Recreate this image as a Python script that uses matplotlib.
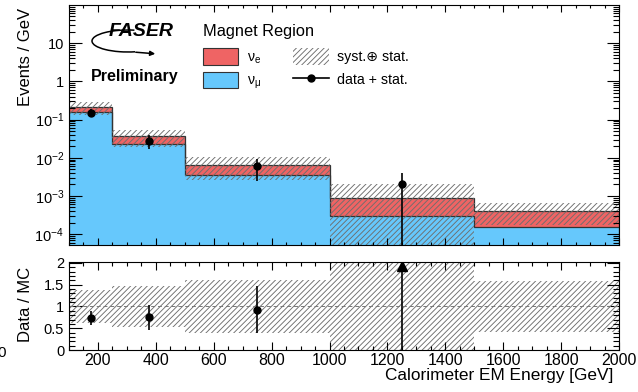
import numpy as np
import matplotlib
matplotlib.use('Agg')
import matplotlib.pyplot as plt
from matplotlib.patches import Patch, Arc, FancyArrowPatch
from matplotlib.lines import Line2D
from matplotlib.ticker import MultipleLocator, LogLocator, NullFormatter

plt.rcParams['font.family'] = ['Liberation Sans', 'DejaVu Sans']
plt.rcParams['mathtext.fontset'] = 'custom'
plt.rcParams['mathtext.rm'] = 'Liberation Sans'
plt.rcParams['mathtext.it'] = 'Liberation Sans'
plt.rcParams['mathtext.bf'] = 'Liberation Sans:bold'
plt.rcParams['hatch.linewidth'] = 0.65

# binned MC (events / GeV)
bin_edges = [100, 250, 500, 1000, 1500, 2000]
nu_mu = [0.157, 0.0226, 0.00357, 0.000298, 0.000158]
nu_e = [0.051, 0.0144, 0.0029, 0.00059, 0.000245]
rel_unc = [0.38, 0.48, 0.60, 1.36, 0.58]   # syst (+) stat, relative

# data points
data_x = [175, 375, 750, 1250]
data = [0.153, 0.028, 0.006, 0.002]
data_err = [0.032, 0.0106, 0.0035, 0.002]

red = '#ef6464'
blue = '#66c8fc'
hatch_col = '#6e6e6e'
edge_col = '#333333'

edges = np.array(bin_edges, dtype=float)
mu = np.array(nu_mu)
tot = mu + np.array(nu_e)
unc = np.array(rel_unc)
widths = np.diff(edges)

fig = plt.figure(figsize=(6.38, 3.92), dpi=100)
W, H = 638.0, 392.0
ax = fig.add_axes([69 / W, 1 - 245 / H, 550 / W, 240 / H])
axr = fig.add_axes([69 / W, 1 - 350 / H, 550 / W, 88 / H])

# ---- top panel
ax.set_yscale('log')
ax.stairs(mu, edges, baseline=1e-9, fill=True, color=blue)
ax.stairs(tot, edges, baseline=mu, fill=True, color=red)
ax.stairs(mu, edges, baseline=None, color=edge_col, lw=0.9)
ax.stairs(tot, edges, baseline=1e-9, color=edge_col, lw=0.9)
lo = np.clip(tot * (1 - unc), 1e-9, None)
hi = tot * (1 + unc)
ax.bar(edges[:-1], hi - lo, width=widths, bottom=lo, align='edge', fill=False,
       hatch='//////', edgecolor=hatch_col, linewidth=0)

d = np.array(data)
de = np.array(data_err)
ax.errorbar(data_x, d, yerr=[np.minimum(de, d * 0.999999), de],
            fmt='o', color='k', ms=5, elinewidth=1.2, capsize=0)

ax.set_xlim(100, 2000)
ax.set_ylim(5.2e-5, 100)
ax.set_yticks([1e-4, 1e-3, 1e-2, 1e-1, 1, 10])
ax.set_yticklabels(['$10^{-4}$', '$10^{-3}$', '$10^{-2}$', '$10^{-1}$', '1', '10'])
ax.yaxis.set_minor_locator(LogLocator(base=10, subs=np.arange(2, 10)))
ax.yaxis.set_minor_formatter(NullFormatter())
ax.xaxis.set_major_locator(MultipleLocator(200))
ax.xaxis.set_minor_locator(MultipleLocator(50))
ax.tick_params(axis='x', labelbottom=False)
ax.tick_params(which='both', direction='in', top=True, right=True, labelsize=10.5)
ax.tick_params(axis='y', which='major', length=9, width=0.8)
ax.tick_params(axis='y', which='minor', length=4.5, width=0.8)
ax.tick_params(axis='x', which='major', length=5, width=0.8)
ax.tick_params(axis='x', which='minor', length=2.5, width=0.8)
ax.set_ylabel('Events / GeV', fontsize=12, loc='top')
ax.yaxis.set_label_coords(-0.066, 0.99)

handles = [Patch(facecolor=red, edgecolor=edge_col, lw=0.8),
           Patch(facecolor=blue, edgecolor=edge_col, lw=0.8),
           Patch(facecolor='white', edgecolor=hatch_col, hatch='//////', lw=0),
           Line2D([], [], color='k', marker='o', ms=5, lw=1.2)]
labels = [r'$\nu_{e}$', r'$\nu_{\mu}$', 'syst.\u2295 stat.', 'data + stat.']
leg = ax.legend(handles, labels, ncol=2, frameon=False, fontsize=10.2,
                title='Magnet Region', title_fontsize=11.8,
                loc='upper left', bbox_to_anchor=(0.243, 0.922),
                borderaxespad=0, borderpad=0, handlelength=2.5, handleheight=1.4,
                handletextpad=0.6, columnspacing=2.3, labelspacing=0.45)
leg._legend_box.align = 'left'
leg._legend_box.sep = 7

# FASER logo + Preliminary
def px(x, y):
    return (x / W, 1 - y / H)

fig.text(*px(141, 32), 'FASER', fontsize=14, fontweight='bold', fontstyle='italic',
         ha='center', va='center')
fig.add_artist(Arc(px(128, 41), 72 / W, 22 / H, theta1=70, theta2=292,
                   transform=fig.transFigure, color='k', lw=1.1))
fig.add_artist(FancyArrowPatch(px(133, 52), px(158, 54),
               transform=fig.transFigure, arrowstyle='-|>', mutation_scale=7,
               color='k', lw=1.1))
fig.text(*px(135, 77), 'Preliminary', fontsize=11.5, fontweight='bold',
         ha='center', va='center')

# ---- ratio panel
r_lo = 1 - unc
r_hi = 1 + unc
axr.bar(edges[:-1], r_hi - r_lo, width=widths, bottom=r_lo, align='edge',
        fill=False, hatch='//////', edgecolor=hatch_col, linewidth=0)
axr.axhline(1, color='#777777', lw=0.7, ls=(0, (4, 3)))

ratio = d / tot[:len(d)]
rerr = de / tot[:len(d)]
inside = ratio <= 2
xr = np.array(data_x)
axr.errorbar(xr[inside], ratio[inside], yerr=rerr[inside], fmt='o', color='k',
             ms=5, elinewidth=1.2, capsize=0)
for x in xr[~inside]:
    axr.vlines(x, 0, 1.95, color='k', lw=1.2)
    axr.plot([x], [1.92], marker='^', color='k', ms=7)

axr.set_xlim(100, 2000)
axr.set_ylim(0, 2.02)
axr.set_yticks([0, 0.5, 1, 1.5, 2])
axr.set_yticklabels(['0', '0.5', '1', '1.5', '2'])
axr.yaxis.set_minor_locator(MultipleLocator(0.1))
axr.xaxis.set_major_locator(MultipleLocator(200))
axr.xaxis.set_minor_locator(MultipleLocator(50))
axr.tick_params(which='both', direction='in', top=True, right=True)
axr.tick_params(axis='y', which='major', length=9, width=0.8, labelsize=10.5)
axr.tick_params(axis='y', which='minor', length=4.5, width=0.8)
axr.tick_params(axis='x', which='major', length=6, width=0.8, labelsize=11.5, pad=2)
axr.tick_params(axis='x', which='minor', length=3, width=0.8)
axr.set_ylabel('Data / MC', fontsize=12)
axr.yaxis.set_label_coords(-0.066, 0.52)
axr.set_xlabel('Calorimeter EM Energy [GeV]', fontsize=12.4, loc='right')
axr.xaxis.set_label_coords(0.989, -0.21)

fig.text(-0.004, 0.09, '0', fontsize=11)

fig.savefig('out.png', dpi=100)
